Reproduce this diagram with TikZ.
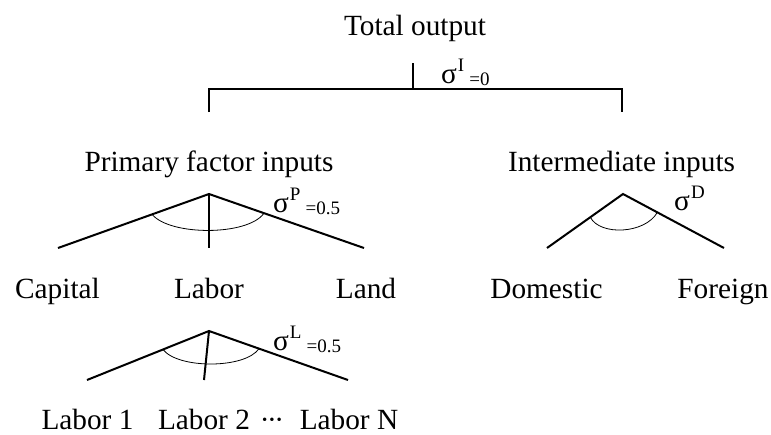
\documentclass[tikz,border=0pt]{standalone}
\usepackage{fontspec}
\setmainfont{Liberation Serif}
\usetikzlibrary{calc}
\newcommand\bigfont{\fontsize{29.3}{34}\selectfont}
\newcommand\smallfont{\fontsize{19}{19}\selectfont}
\newcommand\sgm[2]{σ\hspace{1pt}\raisebox{12pt}{\smallfont #1}\hspace{5pt}\raisebox{-2pt}{\smallfont #2}}
\tikzset{
  lbl/.style={anchor=base, inner sep=0pt, font=\bigfont},
  siglbl/.style={anchor=base west, inner sep=0pt, font=\bigfont},
  branch/.style={line width=2pt},
  arcline/.style={line width=0.8pt},
}
\begin{document}
\begin{tikzpicture}[x=1pt,y=-1pt]
\useasboundingbox (0,0) rectangle (771,434);
% ---- top level
\node[lbl] (total) at (415,35) {Total output};
\coordinate (ttop) at (413,63);
\coordinate (tj) at (413,89);
\coordinate (tl) at (209,89);
\coordinate (tr) at (622,89);
\coordinate (tld) at (209,112);
\coordinate (trd) at (622,112);
\draw[branch] (ttop) -- (tj);
\draw[branch] (tld) -- (tl) -- (tr) -- (trd);
\node[siglbl] (sigI) at (441,83) {\sgm{I}{=0}};
% ---- second level labels
\node[lbl] (prim) at (209,171) {Primary factor inputs};
\node[lbl] (inter) at (621.5,171) {Intermediate inputs};
% ---- primary factor tree
\coordinate (pa) at (209,194);
\coordinate (pl) at (58,248);
\coordinate (pm) at (209,248);
\coordinate (pr) at (364,248);
\draw[branch] (pl) -- (pa) -- (pr);
\draw[branch] (pa) -- (pm);
\draw[arcline] ($(pa)!0.377!(pl)$) .. controls (170,236) and (248,236) .. ($(pa)!0.355!(pr)$);
\node[siglbl] (sigP) at (273,212) {\sgm{P}{=0.5}};
\node[lbl] (capital) at (57.5,298) {Capital};
\node[lbl] (labor) at (209,298) {Labor};
\node[lbl] (land) at (366,298) {Land};
% ---- intermediate tree
\coordinate (ia) at (623,194);
\coordinate (il) at (547,248);
\coordinate (ir) at (724,248);
\draw[branch] (il) -- (ia) -- (ir);
\draw[arcline] ($(ia)!0.43!(il)$) .. controls (600,236) and (645,234) .. ($(ia)!0.34!(ir)$);
\node[siglbl] (sigD) at (674,210) {σ\hspace{1pt}\raisebox{12pt}{\smallfont D}};
\node[lbl] (dom) at (546.5,298) {Domestic};
\node[lbl] (for) at (723,298) {Foreign};
% ---- labor tree
\coordinate (la) at (209,331);
\coordinate (ll) at (87,380);
\coordinate (lm) at (204,380);
\coordinate (lr) at (348,380);
\draw[branch] (ll) -- (la) -- (lr);
\draw[branch] (la) -- (lm);
\draw[arcline] ($(la)!0.377!(ll)$) .. controls (178,369) and (245,369) .. ($(la)!0.36!(lr)$);
\node[siglbl] (sigL) at (273,350) {\sgm{L}{=0.5}};
\node[lbl] (l1) at (87.5,429) {Labor 1};
\node[lbl] (l2) at (204,429) {Labor 2};
\node[lbl] (dots) at (272,429) {·\kern-2.5pt·\kern-2.5pt·};
\node[lbl] (ln) at (349,429) {Labor N};
\end{tikzpicture}
\end{document}
